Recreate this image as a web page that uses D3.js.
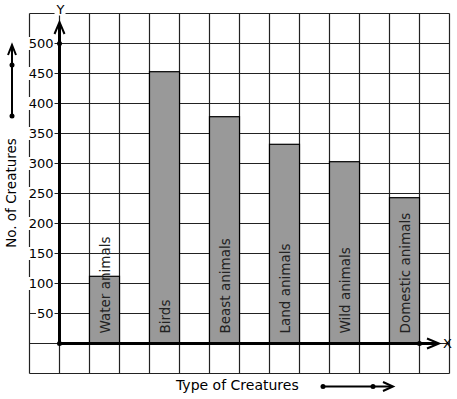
<!DOCTYPE html>
<html>
<head>
<meta charset="utf-8">
<script src="https://cdn.jsdelivr.net/npm/d3@7"></script>
<style>
  body { margin: 0; background: #fff; }
  text { font-family: "DejaVu Sans", Verdana, sans-serif; }
</style>
</head>
<body>
<script>
// chart data
var categories = ["Water animals", "Birds", "Beast animals", "Land animals", "Wild animals", "Domestic animals"];
var counts = [112, 453, 378, 332, 303, 243];
var yTicks = [50, 100, 150, 200, 250, 300, 350, 400, 450, 500];

var W = 457, H = 399;

var svg = d3.select("body").append("svg")
  .attr("width", W)
  .attr("height", H);

// x in "grid column" units, y in creature counts
var x = d3.scaleLinear().domain([-1, 13]).range([29.5, 449.5]);
var y = d3.scaleLinear().domain([0, 500]).range([343.5, 43.5]);

// graph paper grid
var grid = svg.append("g").attr("stroke", "#222").attr("stroke-width", 1.2);
d3.range(-1, 14).forEach(function(c){
  grid.append("line")
    .attr("x1", x(c)).attr("x2", x(c))
    .attr("y1", y(550)).attr("y2", y(-50));
});
d3.range(-50, 551, 50).forEach(function(v){
  grid.append("line")
    .attr("x1", x(-1)).attr("x2", x(13))
    .attr("y1", y(v)).attr("y2", y(v));
});

// bars
svg.selectAll("rect.bar")
  .data(counts)
  .enter().append("rect")
  .attr("class", "bar")
  .attr("x", function(d, i){ return x(1 + 2 * i); })
  .attr("width", x(1) - x(0))
  .attr("y", function(d){ return y(d); })
  .attr("height", function(d){ return y(0) - y(d); })
  .attr("fill", "#999999")
  .attr("stroke", "#000")
  .attr("stroke-width", 1.2);

// bar labels (rotated)
svg.selectAll("text.blabel")
  .data(categories)
  .enter().append("text")
  .attr("class", "blabel")
  .attr("transform", function(d, i){
    return "translate(" + (x(1.5 + 2 * i) + 5) + "," + (y(0) - 10) + ") rotate(-90)";
  })
  .attr("font-size", 13.5)
  .attr("fill", "#222")
  .text(function(d){ return d; });

// helper: text with white box behind it
function boxedText(g, tx, ty, str, anchor, size){
  var t = g.append("text")
    .attr("x", tx).attr("y", ty)
    .attr("text-anchor", anchor)
    .attr("dominant-baseline", "central")
    .attr("font-size", size)
    .attr("fill", "#000")
    .text(str);
  var b = t.node().getBBox();
  g.insert("rect", function(){ return t.node(); })
    .attr("x", b.x - 1).attr("y", b.y + 1)
    .attr("width", b.width + 2).attr("height", b.height - 2)
    .attr("fill", "#fff");
  return t;
}

// y tick labels
var ticks = svg.append("g");
yTicks.forEach(function(v){
  boxedText(ticks, x(0) - 6, y(v), v, "end", 13);
});

// axes
svg.append("line")
  .attr("x1", x(0)).attr("x2", x(0))
  .attr("y1", y(0)).attr("y2", 24)
  .attr("stroke", "#000").attr("stroke-width", 3);
svg.append("path")
  .attr("d", "M" + (x(0) - 5) + ",34 L" + x(0) + ",22 L" + (x(0) + 5) + ",34")
  .attr("fill", "none").attr("stroke", "#000").attr("stroke-width", 2);
svg.append("line")
  .attr("x1", x(0)).attr("x2", 437)
  .attr("y1", y(0)).attr("y2", y(0))
  .attr("stroke", "#000").attr("stroke-width", 3);
svg.append("path")
  .attr("d", "M427," + (y(0) - 5) + " L439," + y(0) + " L427," + (y(0) + 5))
  .attr("fill", "none").attr("stroke", "#000").attr("stroke-width", 2);

[[x(0), y(0)], [x(0), y(500)], [x(12), y(0)]].forEach(function(p){
  svg.append("circle").attr("cx", p[0]).attr("cy", p[1]).attr("r", 2.5).attr("fill", "#000");
});

boxedText(svg, x(0) + 1, 9, "Y", "middle", 13);
svg.append("text")
  .attr("x", 443).attr("y", y(0))
  .attr("dominant-baseline", "central")
  .attr("font-size", 13)
  .text("X");

// axis titles
svg.append("text")
  .attr("transform", "translate(16,193) rotate(-90)")
  .attr("text-anchor", "middle")
  .attr("font-size", 13.5)
  .text("No. of Creatures");
svg.append("text")
  .attr("x", 176).attr("y", 390)
  .attr("font-size", 14)
  .text("Type of Creatures");

// decorative direction arrows
svg.append("line").attr("x1", 12).attr("x2", 12).attr("y1", 116).attr("y2", 47)
  .attr("stroke", "#000").attr("stroke-width", 2);
svg.append("path").attr("d", "M8,55 L12,45 L16,55")
  .attr("fill", "none").attr("stroke", "#000").attr("stroke-width", 2);
svg.append("circle").attr("cx", 12).attr("cy", 116).attr("r", 2.5);
svg.append("circle").attr("cx", 12).attr("cy", 65).attr("r", 2.5);

svg.append("line").attr("x1", 323).attr("x2", 391).attr("y1", 386.5).attr("y2", 386.5)
  .attr("stroke", "#000").attr("stroke-width", 2);
svg.append("path").attr("d", "M383,382 L393,386.5 L383,391")
  .attr("fill", "none").attr("stroke", "#000").attr("stroke-width", 2);
svg.append("circle").attr("cx", 323).attr("cy", 386.5).attr("r", 2.5);
svg.append("circle").attr("cx", 373).attr("cy", 386.5).attr("r", 2.5);
</script>
</body>
</html>
